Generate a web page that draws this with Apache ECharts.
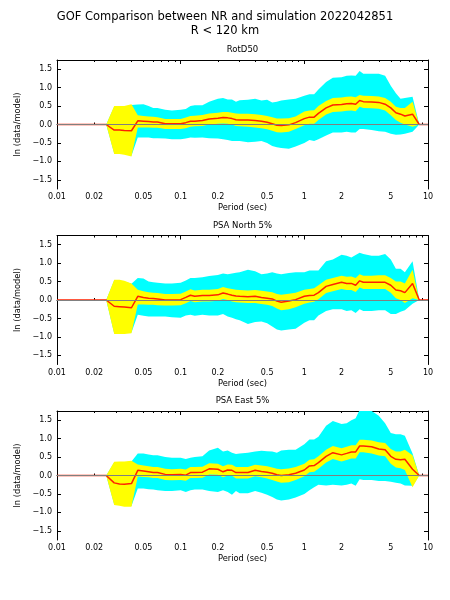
<!DOCTYPE html>
<html>
<head>
<meta charset="utf-8">
<script src="https://cdn.jsdelivr.net/npm/echarts@6/dist/echarts.min.js"></script>
<style>
html, body { margin: 0; padding: 0; background: #fff; }
#main { width: 450px; height: 600px; }
</style>
</head>
<body>
<div id="main"></div>
<script>
// periods (sec)
var periods = [
  0.01, 0.025, 0.029, 0.032, 0.035, 0.04, 0.045, 0.05, 0.055, 0.06, 0.065, 0.075, 0.085,
  0.1, 0.11, 0.12, 0.13, 0.15, 0.17, 0.2, 0.22, 0.24, 0.26, 0.28, 0.3, 0.35, 0.4, 0.45, 0.5, 0.55, 0.6, 0.65, 0.75, 0.85,
  1, 1.1, 1.2, 1.3, 1.5, 1.7, 2, 2.2, 2.4, 2.6, 2.8, 3, 3.5, 4, 4.5, 5, 5.5, 6, 6.5, 7.5, 8.5, 10
];
var xLabels = [0.01, 0.02, 0.05, 0.1, 0.2, 0.5, 1, 2, 5, 10];
var xMajor = [0.01, 0.1, 1, 10];
var xMinor = [0.02, 0.03, 0.04, 0.05, 0.06, 0.07, 0.08, 0.09,
  0.2, 0.3, 0.4, 0.5, 0.6, 0.7, 0.8, 0.9, 2, 3, 4, 5, 6, 7, 8, 9];
var yTicks = [-1.5, -1, -0.5, 0, 0.5, 1, 1.5];
var panelTitles = ['RotD50', 'PSA North 5%', 'PSA East 5%'];

// RotD50
var rotd50Mean = [
  0, 0, -0.15, -0.15, -0.16, -0.17, 0.10, 0.09, 0.08, 0.07, 0.07, 0.02, 0.02,
  0.02, 0.05, 0.09, 0.09, 0.11, 0.15, 0.17, 0.19, 0.18, 0.16, 0.13, 0.12, 0.12, 0.11, 0.09, 0.06, 0.02, -0.02, -0.03, -0.01, 0.05,
  0.16, 0.20, 0.20, 0.30, 0.45, 0.53, 0.54, 0.56, 0.57, 0.55, 0.65, 0.62, 0.61, 0.60, 0.55, 0.45, 0.32, 0.28, 0.23, 0.28, 0, 0
];
var rotd50SdUp = [
  0, 0, 0.50, 0.50, 0.50, 0.55, 0.25, 0.23, 0.22, 0.21, 0.20, 0.15, 0.15,
  0.15, 0.19, 0.23, 0.24, 0.26, 0.30, 0.32, 0.34, 0.34, 0.32, 0.30, 0.29, 0.29, 0.28, 0.26, 0.23, 0.20, 0.16, 0.16, 0.17, 0.22,
  0.35, 0.38, 0.39, 0.50, 0.64, 0.72, 0.73, 0.75, 0.76, 0.74, 0.80, 0.78, 0.77, 0.76, 0.72, 0.62, 0.48, 0.45, 0.45, 0.62, 0, 0
];
var rotd50SdLow = [
  0, 0, -0.80, -0.80, -0.82, -0.87, -0.08, -0.08, -0.08, -0.09, -0.09, -0.12, -0.12,
  -0.12, -0.10, -0.06, -0.05, -0.04, 0.00, 0.02, 0.03, 0.02, 0.00, -0.04, -0.05, -0.06, -0.08, -0.10, -0.13, -0.17, -0.21, -0.22, -0.20, -0.12,
  -0.02, 0.02, 0.02, 0.12, 0.27, 0.34, 0.35, 0.37, 0.38, 0.36, 0.48, 0.45, 0.44, 0.43, 0.38, 0.25, 0.12, 0.05, 0.00, -0.06, 0, 0
];
var rotd50CiUp = [
  0, 0, 0.48, 0.48, 0.48, 0.53, 0.54, 0.55, 0.50, 0.45, 0.45, 0.40, 0.38,
  0.40, 0.42, 0.50, 0.52, 0.52, 0.62, 0.70, 0.72, 0.68, 0.68, 0.62, 0.66, 0.67, 0.70, 0.65, 0.67, 0.60, 0.62, 0.65, 0.68, 0.70,
  0.78, 0.82, 0.82, 0.95, 1.15, 1.27, 1.28, 1.32, 1.33, 1.32, 1.45, 1.38, 1.38, 1.38, 1.32, 1.05, 0.85, 0.70, 0.72, 0.75, 0, 0
];
var rotd50CiLow = [
  0, 0, -0.78, -0.78, -0.80, -0.85, -0.35, -0.35, -0.35, -0.37, -0.37, -0.38, -0.40,
  -0.40, -0.38, -0.35, -0.36, -0.35, -0.37, -0.38, -0.40, -0.42, -0.45, -0.45, -0.45, -0.48, -0.47, -0.45, -0.50, -0.58, -0.62, -0.64, -0.66, -0.60,
  -0.50, -0.42, -0.45, -0.40, -0.30, -0.22, -0.22, -0.20, -0.22, -0.22, -0.12, -0.12, -0.15, -0.18, -0.20, -0.25, -0.28, -0.27, -0.25, -0.20, 0, 0
];

// PSA North
var northMean = [
  0, 0, -0.17, -0.18, -0.19, -0.21, 0.10, 0.07, 0.05, 0.04, 0.03, 0.00, 0.00,
  0.01, 0.07, 0.13, 0.10, 0.12, 0.12, 0.14, 0.19, 0.16, 0.13, 0.11, 0.10, 0.09, 0.10, 0.07, 0.05, 0.03, -0.03, -0.06, -0.03, 0.01,
  0.10, 0.12, 0.13, 0.20, 0.37, 0.42, 0.48, 0.45, 0.45, 0.40, 0.52, 0.48, 0.48, 0.48, 0.48, 0.40, 0.27, 0.25, 0.20, 0.45, 0, 0
];
var northSdUp = [
  0, 0, 0.55, 0.55, 0.52, 0.45, 0.28, 0.24, 0.21, 0.20, 0.19, 0.16, 0.16,
  0.17, 0.23, 0.29, 0.26, 0.28, 0.28, 0.30, 0.35, 0.32, 0.30, 0.28, 0.27, 0.26, 0.27, 0.25, 0.23, 0.21, 0.16, 0.14, 0.17, 0.20,
  0.28, 0.30, 0.32, 0.40, 0.55, 0.60, 0.66, 0.63, 0.64, 0.60, 0.70, 0.66, 0.66, 0.67, 0.67, 0.60, 0.50, 0.50, 0.45, 0.82, 0, 0
];
var northSdLow = [
  0, 0, -0.92, -0.92, -0.92, -0.90, -0.12, -0.12, -0.13, -0.13, -0.14, -0.15, -0.15,
  -0.14, -0.09, -0.03, -0.06, -0.04, -0.04, -0.02, 0.03, 0.00, -0.04, -0.06, -0.07, -0.08, -0.08, -0.11, -0.13, -0.16, -0.23, -0.28, -0.25, -0.20,
  -0.10, -0.07, -0.05, 0.02, 0.19, 0.24, 0.30, 0.27, 0.27, 0.22, 0.34, 0.30, 0.30, 0.30, 0.30, 0.20, 0.05, 0.00, -0.08, 0.05, 0, 0
];
var northCiUp = [
  0, 0, 0.53, 0.53, 0.50, 0.44, 0.60, 0.58, 0.50, 0.48, 0.47, 0.45, 0.45,
  0.47, 0.53, 0.60, 0.60, 0.62, 0.65, 0.68, 0.72, 0.70, 0.72, 0.74, 0.75, 0.82, 0.78, 0.70, 0.72, 0.75, 0.72, 0.70, 0.73, 0.75,
  0.75, 0.80, 0.80, 0.80, 1.05, 1.10, 1.23, 1.20, 1.15, 1.22, 1.28, 1.25, 1.20, 1.20, 1.25, 1.10, 0.85, 0.85, 0.75, 1.05, 0, 0
];
var northCiLow = [
  0, 0, -0.90, -0.90, -0.90, -0.88, -0.40, -0.43, -0.45, -0.45, -0.45, -0.45, -0.47,
  -0.48, -0.42, -0.40, -0.43, -0.40, -0.42, -0.42, -0.38, -0.45, -0.48, -0.52, -0.55, -0.65, -0.60, -0.58, -0.63, -0.72, -0.80, -0.83, -0.80, -0.78,
  -0.62, -0.55, -0.55, -0.42, -0.30, -0.25, -0.25, -0.30, -0.28, -0.35, -0.25, -0.30, -0.30, -0.28, -0.28, -0.38, -0.38, -0.32, -0.28, -0.10, 0, 0
];

// PSA East
var eastMean = [
  0, 0, -0.20, -0.23, -0.24, -0.22, 0.14, 0.12, 0.10, 0.08, 0.08, 0.03, 0.02,
  0.03, 0.01, 0.08, 0.08, 0.09, 0.18, 0.17, 0.10, 0.15, 0.14, 0.08, 0.08, 0.08, 0.14, 0.11, 0.09, 0.06, 0.02, 0.00, 0.02, 0.06,
  0.15, 0.26, 0.27, 0.35, 0.52, 0.62, 0.56, 0.60, 0.64, 0.64, 0.80, 0.80, 0.78, 0.72, 0.70, 0.52, 0.44, 0.43, 0.44, 0.17, 0, 0
];
var eastSdUp = [
  0, 0, 0.37, 0.38, 0.38, 0.40, 0.30, 0.27, 0.25, 0.23, 0.23, 0.18, 0.17,
  0.18, 0.16, 0.23, 0.23, 0.24, 0.33, 0.32, 0.25, 0.30, 0.29, 0.23, 0.23, 0.23, 0.29, 0.27, 0.25, 0.22, 0.18, 0.17, 0.19, 0.23,
  0.32, 0.43, 0.44, 0.52, 0.70, 0.80, 0.74, 0.78, 0.82, 0.82, 0.97, 0.97, 0.95, 0.90, 0.88, 0.72, 0.65, 0.65, 0.70, 0.55, 0, 0
];
var eastSdLow = [
  0, 0, -0.80, -0.82, -0.85, -0.85, -0.03, -0.04, -0.05, -0.07, -0.07, -0.12, -0.13,
  -0.12, -0.14, -0.07, -0.07, -0.06, 0.03, 0.02, -0.05, 0.00, -0.01, -0.08, -0.08, -0.08, -0.02, -0.05, -0.08, -0.12, -0.16, -0.20, -0.18, -0.12,
  -0.02, 0.09, 0.10, 0.18, 0.35, 0.45, 0.38, 0.42, 0.46, 0.46, 0.63, 0.63, 0.60, 0.54, 0.52, 0.32, 0.22, 0.20, 0.15, -0.32, 0, 0
];
var eastCiUp = [
  0, 0, 0.35, 0.36, 0.36, 0.38, 0.60, 0.60, 0.57, 0.55, 0.55, 0.50, 0.48,
  0.48, 0.45, 0.48, 0.50, 0.52, 0.68, 0.75, 0.65, 0.68, 0.62, 0.58, 0.60, 0.62, 0.65, 0.67, 0.66, 0.65, 0.62, 0.68, 0.70, 0.70,
  0.85, 0.98, 0.98, 1.05, 1.35, 1.48, 1.40, 1.42, 1.50, 1.55, 1.78, 1.80, 1.75, 1.62, 1.42, 1.15, 1.12, 1.12, 1.08, 0.60, 0, 0
];
var eastCiLow = [
  0, 0, -0.78, -0.80, -0.83, -0.83, -0.35, -0.35, -0.37, -0.38, -0.40, -0.42, -0.42,
  -0.40, -0.45, -0.40, -0.38, -0.38, -0.42, -0.45, -0.40, -0.45, -0.52, -0.42, -0.48, -0.48, -0.42, -0.47, -0.52, -0.58, -0.65, -0.68, -0.65, -0.60,
  -0.50, -0.40, -0.32, -0.25, -0.27, -0.25, -0.27, -0.25, -0.22, -0.28, -0.10, -0.12, -0.12, -0.15, -0.15, -0.17, -0.20, -0.22, -0.27, -0.28, 0, 0
];

var panels = [
  { mean: rotd50Mean, sdUp: rotd50SdUp, sdLow: rotd50SdLow, ciUp: rotd50CiUp, ciLow: rotd50CiLow },
  { mean: northMean, sdUp: northSdUp, sdLow: northSdLow, ciUp: northCiUp, ciLow: northCiLow },
  { mean: eastMean, sdUp: eastSdUp, sdLow: eastSdLow, ciUp: eastCiUp, ciLow: eastCiLow }
];
var gridTops = [60, 235.5, 411];
var FONT = 'DejaVu Sans';

// fill_between as one polygon, drawn through the axes
function bandSeries(g, up, low, color) {
  return {
    type: 'custom',
    xAxisIndex: g * 4,
    yAxisIndex: g * 2,
    clip: true,
    silent: true,
    data: periods.map(function (p, i) { return [p, low[i], up[i]]; }),
    encode: { x: 0, y: [1, 2] },
    renderItem: function (params, api) {
      if (params.dataIndex !== 0) return;
      var top = [], bottom = [];
      for (var i = 0; i < periods.length; i++) {
        top.push(api.coord([periods[i], up[i]]));
        bottom.unshift(api.coord([periods[i], low[i]]));
      }
      return {
        type: 'polygon',
        shape: { points: top.concat(bottom) },
        style: { fill: color, stroke: null }
      };
    }
  };
}

function xAxisDef(g, pos, ticks, len, withLabels) {
  return {
    type: 'log', logBase: 10, min: 0.01, max: 10,
    gridIndex: g, position: pos,
    name: withLabels ? 'Period (sec)' : '',
    nameLocation: 'middle', nameGap: 15,
    nameTextStyle: { fontFamily: FONT, fontSize: 8.3, color: '#000' },
    axisLine: { show: len > 3, lineStyle: { color: '#000', width: 1 } },
    axisTick: { show: true, inside: true, length: len, customValues: ticks, lineStyle: { color: '#000', width: 1 } },
    axisLabel: {
      show: !!withLabels, customValues: xLabels, margin: 4,
      fontFamily: FONT, fontSize: 8, color: '#000',
      formatter: function (v) { return String(+v.toPrecision(3)); }
    },
    splitLine: { show: false },
    minorTick: { show: false },
    minorSplitLine: { show: false }
  };
}

var grids = [], xAxes = [], yAxes = [], series = [], graphics = [];

panels.forEach(function (p, g) {
  grids.push({ left: 57, right: 22, top: gridTops[g], height: 129 });

  xAxes.push(xAxisDef(g, 'bottom', xMajor, 4, true));
  xAxes.push(xAxisDef(g, 'bottom', xMinor, 2, false));
  xAxes.push(xAxisDef(g, 'top', xMajor, 4, false));
  xAxes.push(xAxisDef(g, 'top', xMinor, 2, false));

  [0, 1].forEach(function (side) {
    yAxes.push({
      type: 'value', gridIndex: g, min: -1.75, max: 1.75,
      position: side ? 'right' : 'left',
      name: side ? '' : 'ln (data/model)',
      nameLocation: 'middle', nameGap: 25, nameRotate: 90,
      nameTextStyle: { fontFamily: FONT, fontSize: 8.3, color: '#000' },
      axisLine: { show: true, lineStyle: { color: '#000', width: 1 } },
      axisTick: { show: true, inside: true, length: 4, customValues: yTicks, lineStyle: { color: '#000', width: 1 } },
      axisLabel: {
        show: !side, customValues: yTicks, margin: 5,
        fontFamily: FONT, fontSize: 8, color: '#000',
        formatter: function (v) { return v.toFixed(1).replace('-', '\u2212'); }
      },
      splitLine: { show: false }
    });
  });

  series.push(bandSeries(g, p.ciUp, p.ciLow, '#00ffff'));
  series.push(bandSeries(g, p.sdUp, p.sdLow, '#ffff00'));
  series.push({
    type: 'line', xAxisIndex: g * 4, yAxisIndex: g * 2,
    data: periods.map(function (x, i) { return [x, p.mean[i]]; }),
    symbol: 'none', silent: true,
    lineStyle: { color: '#ff2200', width: 1.5 }
  });
  series.push({
    type: 'line', xAxisIndex: g * 4, yAxisIndex: g * 2,
    data: [], symbol: 'none', silent: true,
    markLine: {
      silent: true, symbol: 'none', animation: false,
      label: { show: false },
      lineStyle: { color: '#808080', width: 1.2, type: 'solid' },
      data: [{ yAxis: 0 }]
    }
  });

  graphics.push({
    type: 'text', x: 242.5, y: gridTops[g] - 10,
    style: {
      text: panelTitles[g], fill: '#000',
      font: '8.5px "DejaVu Sans"',
      textAlign: 'center', textVerticalAlign: 'middle',
      align: 'center', verticalAlign: 'middle'
    }
  });
});

var myChart = echarts.init(document.getElementById('main'));
var option = {
  animation: false,
  backgroundColor: '#fff',
  title: {
    text: 'GOF Comparison between NR and simulation 2022042851\nR < 120 km',
    left: 'center', top: 10, padding: 0,
    textStyle: { fontFamily: FONT, fontSize: 11.5, fontWeight: 'normal', color: '#000', lineHeight: 14 }
  },
  grid: grids,
  xAxis: xAxes,
  yAxis: yAxes,
  series: series,
  graphic: graphics
};
myChart.setOption(option);
</script>
</body>
</html>
